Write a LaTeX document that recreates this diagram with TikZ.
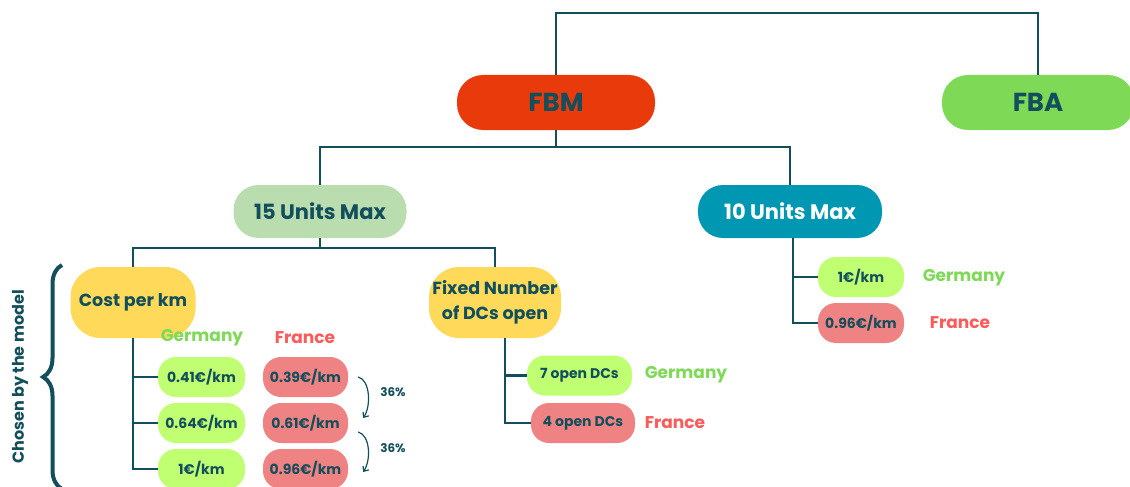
\documentclass[tikz,border=0pt]{standalone}
\usepackage{fontspec}
\setmainfont{Poppins}
\usetikzlibrary{arrows.meta,decorations.pathreplacing,calc}
\definecolor{ink}{HTML}{124E5C}
\definecolor{fbmred}{HTML}{E93A0B}
\definecolor{fbagreen}{HTML}{7ED957}
\definecolor{sage}{HTML}{BADDB0}
\definecolor{tealbox}{HTML}{0097B2}
\definecolor{yel}{HTML}{FFDA5A}
\definecolor{lime}{HTML}{C1FF72}
\definecolor{salmon}{HTML}{EF8282}
\definecolor{gerlab}{HTML}{7ED957}
\definecolor{fralab}{HTML}{FF5A5A}
\begin{document}
\begin{tikzpicture}[x=1pt,y=-1pt,
  pill/.style={inner sep=0pt, align=center, text=ink, font=\bfseries},
  big/.style={pill, rounded corners=26pt, minimum width=198pt, minimum height=55pt, font=\bfseries\fontsize{26}{28}\selectfont},
  mid/.style={pill, rounded corners=25pt, minimum height=53pt, font=\bfseries\fontsize{21}{24}\selectfont},
  cat/.style={pill, fill=yel, rounded corners=30pt, minimum height=71pt, font=\bfseries\fontsize{17.5}{25}\selectfont},
  small/.style={pill, rounded corners=18pt, minimum height=40pt, font=\bfseries\fontsize{14}{16}\selectfont},
  gbox/.style={small, fill=lime},
  rbox/.style={small, fill=salmon},
  glab/.style={text=gerlab, font=\bfseries\fontsize{17}{19}\selectfont},
  flab/.style={text=fralab, font=\bfseries\fontsize{17}{19}\selectfont},
  conn/.style={draw=ink, line width=2.4pt},
  curv/.style={draw=ink, line width=1.2pt, -{Straight Barb[length=4pt,width=7pt]}},
  pct/.style={text=ink, font=\bfseries\fontsize{12}{14}\selectfont}
]
\useasboundingbox (0,0) rectangle (1130,487);

% top level
\node[big, fill=fbmred] (FBM) at (556,102.5) {FBM};
\node[big, fill=fbagreen, minimum width=192pt] (FBA) at (1038,102.5) {FBA};

% second level
\node[mid, fill=sage, minimum width=173pt] (U15) at (320,211.5) {15 Units Max};
\node[mid, fill=tealbox, text=white, minimum width=184pt] (U10) at (790,211.5) {10 Units Max};

% third level
\node[cat, minimum width=125pt] (Cost) at (133,302.5) {Cost per km};
\node[cat, minimum width=132pt] (Fixed) at (495,302.5) {Fixed Number\\of DCs open};

% cost per km leaves
\node[glab] (cg) at (202,338) {Germany};
\node[flab] (cf) at (305,338) {France};
\node[gbox, minimum width=87pt] (g1) at (201.5,377) {0.41€/km};
\node[gbox, minimum width=87pt] (g2) at (201.5,423) {0.64€/km};
\node[gbox, minimum width=87pt] (g3) at (201.5,469) {1€/km};
\node[rbox, minimum width=85pt] (r1) at (305.5,377) {0.39€/km};
\node[rbox, minimum width=85pt] (r2) at (305.5,423) {0.61€/km};
\node[rbox, minimum width=85pt] (r3) at (305.5,469) {0.96€/km};

% fixed number leaves
\node[gbox, minimum width=105pt] (d7) at (579.5,375.5) {7 open DCs};
\node[rbox, minimum width=104pt] (d4) at (583,423) {4 open DCs};
\node[glab] (dg) at (686,375) {Germany};
\node[flab] (df) at (675,423) {France};

% 10 units leaves
\node[gbox, minimum width=86pt] (t1) at (861,277) {1€/km};
\node[rbox, minimum width=86pt] (t2) at (861,323) {0.96€/km};
\node[glab] (tg) at (964,278) {Germany};
\node[flab] (tf) at (960,323) {France};

% connectors
\draw[conn] (FBM.north) -- ++(0,-62) -| (FBA.north);
\draw[conn] (FBM.south) -- ++(0,17) coordinate (j1);
\draw[conn] (U15.north) |- (j1) -| (U10.north);
\draw[conn] (U15.south) -- ++(0,10) coordinate (j2);
\draw[conn] (Cost.north) |- (j2) -| (Fixed.north);

\draw[conn] (Cost.south) |- (g3.west);
\draw[conn] (g1.west) -- (g1.west -| Cost.south);
\draw[conn] (g2.west) -- (g2.west -| Cost.south);

\coordinate (f0) at ([xshift=10pt]Fixed.south);
\draw[conn] (f0) |- (d4.west);
\draw[conn] (d7.west) -- (d7.west -| f0);

\coordinate (u0) at ([xshift=3pt]U10.south);
\draw[conn] (u0) |- (t2.west);
\draw[conn] (t1.west) -- (t1.west -| u0);

% percentage arrows
\draw[curv] ($(r1.east)+(10,0)$) .. controls +(12,3) and +(8,-12) .. ($(r2.east)+(15,-5)$);
\draw[curv] ($(r2.east)+(10,9)$) .. controls +(12,3) and +(8,-12) .. ($(r3.east)+(15,3)$);
\node[pct] (p1) at (393,392) {36\%};
\node[pct] (p2) at (393,448) {36\%};

% brace and side label
\coordinate (bt) at (62,265);
\coordinate (bb) at (62,489);
\draw[ink, line width=4pt, decorate, decoration={brace, amplitude=19pt, aspect=0.5, mirror}] (bt) -- (bb);
\node[text=ink, rotate=90, font=\bfseries\fontsize{16}{18}\selectfont] (chosen) at (20,377) {Chosen by the model};
\end{tikzpicture}
\end{document}
